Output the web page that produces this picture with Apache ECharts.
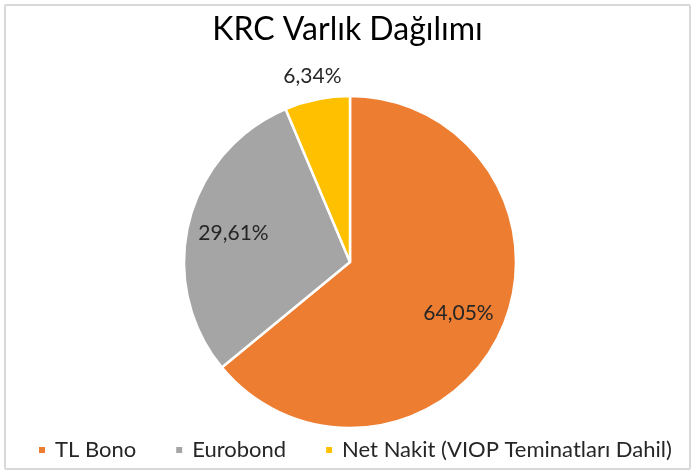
<!DOCTYPE html>
<html>
<head>
<meta charset="utf-8">
<script src="https://cdn.jsdelivr.net/npm/echarts@6/dist/echarts.min.js"></script>
<style>
  html, body { margin: 0; padding: 0; background: #fff; }
  #frame {
    position: absolute; left: 4px; top: 4px; width: 683px; height: 462px;
    border: 2px solid #D9D9D9; border-radius: 2px;
  }
  #main { position: absolute; left: 0; top: 0; width: 695px; height: 472px; }
</style>
</head>
<body>
<div id="frame"></div>
<div id="main"></div>
<script>
var categories = ['TL Bono', 'Eurobond', 'Net Nakit (VIOP Teminatları Dahil)'];
var shares = [64.05, 29.61, 6.34];
var colors = ['#ED7D31', '#A5A5A5', '#FFC000'];
// which slices have their label inside the pie
var labelInside = [true, true, false];

var fontName = 'Lato';

function fmt(v) {
    return v.toFixed(2).replace('.', ',') + '%';
}

var pieData = categories.map(function (name, i) {
    return { name: name, value: shares[i], itemStyle: { color: colors[i] } };
});

function labelData(inside) {
    return categories.map(function (name, i) {
        return {
            name: name,
            value: shares[i],
            label: { show: labelInside[i] === inside }
        };
    });
}

var labelStyle = {
    position: 'inside',
    formatter: function (p) { return fmt(p.value); },
    color: '#262626',
    fontFamily: fontName,
    fontSize: 21
};

var option = {
    animation: false,
    color: colors,
    title: {
        text: 'KRC Varlık Dağılımı',
        left: 'center',
        top: 9,
        textStyle: {
            fontFamily: fontName,
            fontSize: 32,
            fontWeight: 'normal',
            color: '#000'
        }
    },
    legend: {
        data: categories,
        top: 439,
        left: 37,
        width: 655,
        padding: 0,
        itemWidth: 8,
        itemHeight: 8,
        itemGap: 38,
        icon: 'rect',
        textStyle: {
            fontFamily: fontName,
            fontSize: 22,
            color: '#262626',
            padding: [0, 0, 0, 4]
        }
    },
    series: [
        {
            type: 'pie',
            center: [350, 262],
            radius: [0, 166],
            startAngle: 90,
            clockwise: true,
            silent: true,
            itemStyle: { borderColor: '#fff', borderWidth: 2.5 },
            label: { show: false },
            labelLine: { show: false },
            data: pieData
        },
        {
            type: 'pie',
            center: [350, 262],
            radius: [68, 166],
            startAngle: 90,
            silent: true,
            itemStyle: { color: 'transparent' },
            label: labelStyle,
            labelLine: { show: false },
            data: labelData(true)
        },
        {
            type: 'pie',
            center: [350, 262],
            radius: [170, 204],
            startAngle: 90,
            silent: true,
            itemStyle: { color: 'transparent' },
            label: labelStyle,
            labelLine: { show: false },
            data: labelData(false)
        }
    ]
};

var chart = echarts.init(document.getElementById('main'));
chart.setOption(option);
</script>
</body>
</html>
